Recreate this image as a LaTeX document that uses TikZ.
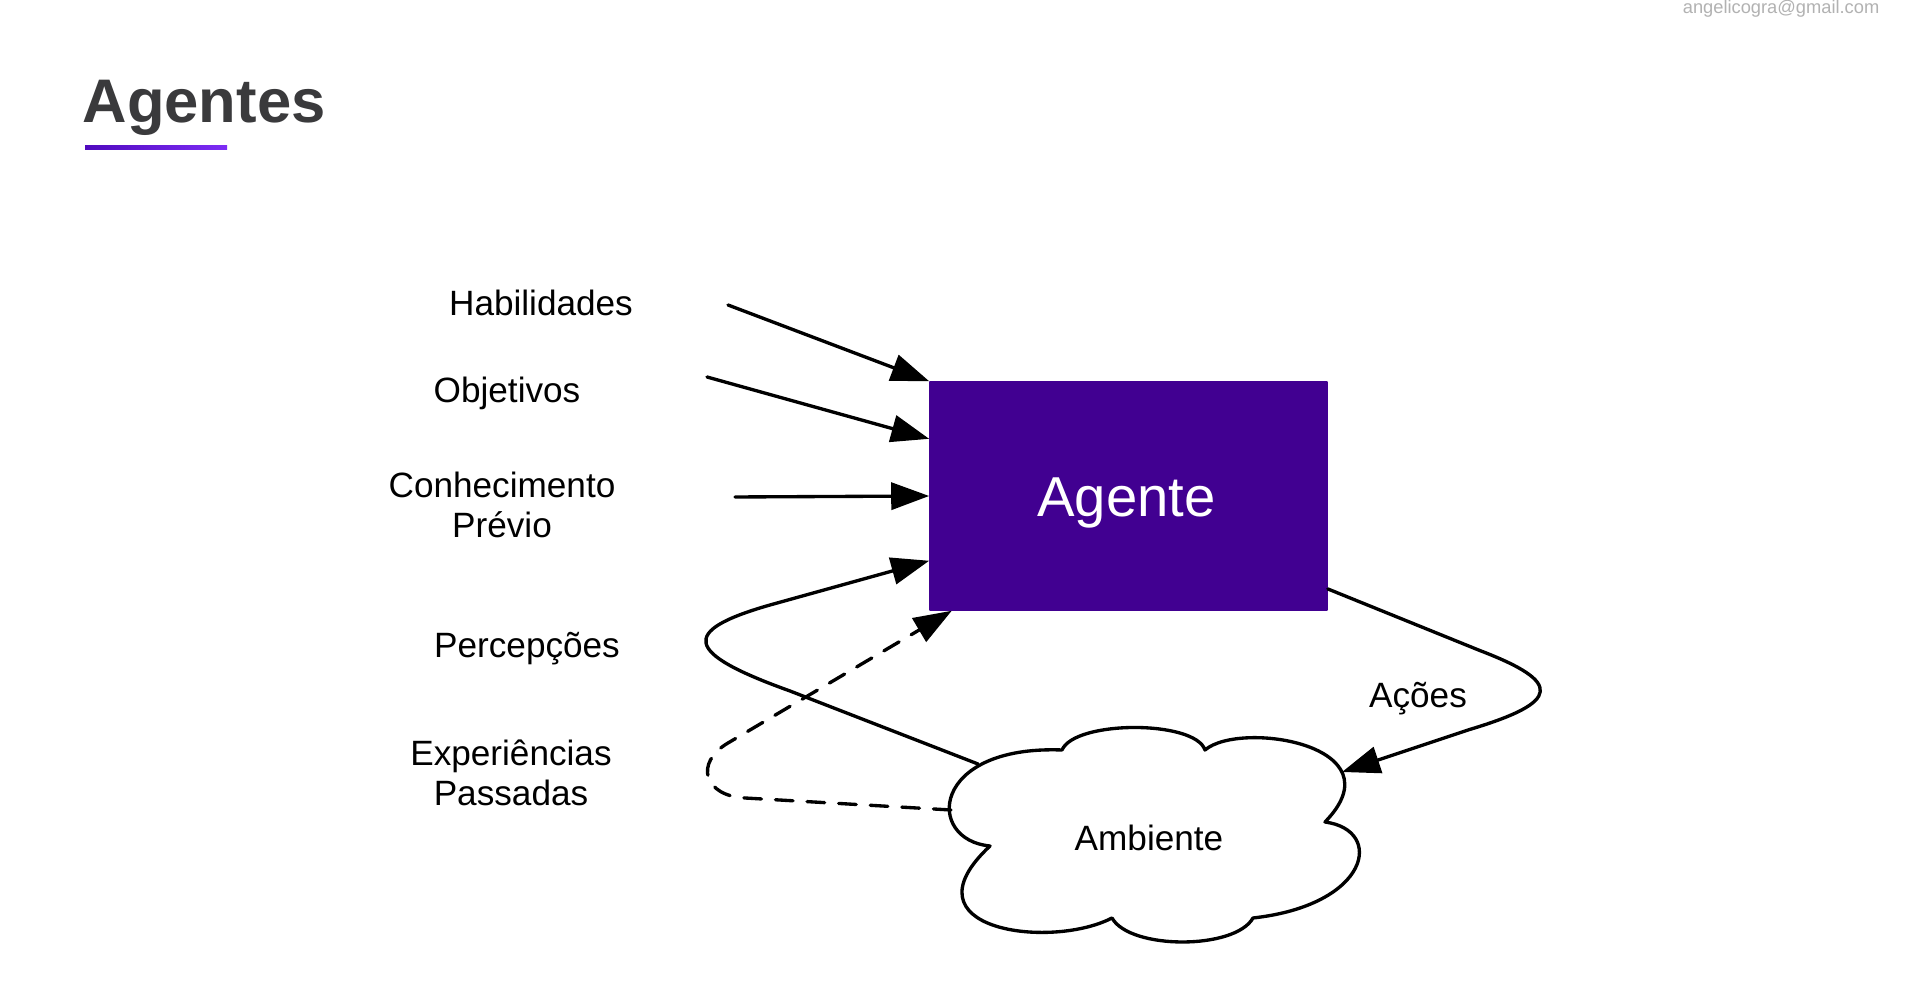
\documentclass[tikz,border=0pt]{standalone}
\usepackage{fontspec}
\setmainfont{Liberation Sans}
\usetikzlibrary{arrows.meta}
\definecolor{roxo}{RGB}{65,0,145}
\definecolor{roxoesc}{RGB}{80,10,190}
\definecolor{roxoclaro}{RGB}{125,45,245}
\definecolor{cinzatitulo}{RGB}{58,58,60}
\begin{document}
\begin{tikzpicture}[x=0.01cm, y=-0.01cm, >={Triangle[length=10.8pt,width=7.7pt]}, font=\fontsize{10}{11.5}\selectfont, line join=round, line cap=round]
	\def\nuvem{(990,846) .. controls (925,840) and (930,745) .. (1062,750)
		.. controls (1075,720) and (1195,720) .. (1205,750)
		.. controls (1240,720) and (1400,745) .. (1325,822)
		.. controls (1385,830) and (1370,905) .. (1253,918)
		.. controls (1235,950) and (1130,950) .. (1112,918)
		.. controls (1050,950) and (900,930) .. (990,846) -- cycle}
	\colorlet{linha}{black}
	\tikzset{rotulo/.style={align=center, inner sep=0pt},
		seta/.style={->, draw=linha, line width=0.95pt},
		tracejada/.style={seta, dash pattern=on 5pt off 4pt}}
	\path[use as bounding box, fill=white] (0,0) rectangle (1914,986);
	% titulo
	\node[anchor=base west, inner sep=0pt, text=cinzatitulo, font=\bfseries\fontsize{17.5}{21}\selectfont] (titulo) at (82,123) {Agentes};
	\shade[left color=roxoesc, right color=roxoclaro] (85,146) rectangle (227,150);
	\node[anchor=base east, inner sep=0pt, text=black!30, font=\fontsize{5.2}{6}\selectfont] (email) at (1880,14) {angelicogra@gmail.com};
	% agente e ambiente
	\node[fill=roxo, draw=roxo, minimum width=3.97cm, minimum height=2.28cm, inner sep=0pt] (agente) at (1128.5,496) {};
	\node[anchor=base, inner sep=0pt, text=white, font=\fontsize{16}{19}\selectfont] (agtxt) at (1126.5,517) {Agente};
	\draw[line width=0.95pt] \nuvem;
	\node[anchor=base, rotulo] (amb) at (1149,851) {Ambiente};
	\coordinate (ambP) at (978,764);
	\coordinate (ambE) at (951,810);
	\coordinate (ambA) at (1342,772);
	% rotulos
	\node[anchor=base, rotulo] (hab) at (541,316) {Habilidades};
	\node[anchor=base, rotulo] (obj) at (507,403) {Objetivos};
	\node[rotulo] (con) at (502,505) {Conhecimento\\Prévio};
	\node[anchor=base, rotulo] (per) at (527,658) {Percepções};
	\node[rotulo] (exp) at (511,773) {Experiências\\Passadas};
	\node[anchor=base, rotulo] (aco) at (1418,708) {Ações};
	\coordinate (hab-s) at (728,305);
	\coordinate (obj-s) at (707,377);
	\coordinate (con-s) at (735,497);
	% setas
	\draw[seta] (hab-s) -- (agente.north west);
	\draw[seta] (obj-s) -- (agente.164);
	\draw[seta] (con-s) -- (agente.west);
	\draw[seta] (ambP) -- (790,691) .. controls (684,653) and (679,631) .. (770,605) -- (agente.198);
	\draw[tracejada] (ambE) -- (745,798) .. controls (704,796) and (694,763) .. (728,743) -- (agente.213);
	\draw[seta] (agente.335) -- (1480,650.6) .. controls (1563,682.4) and (1561,702) .. (1470,729.4) -- (ambA);
\end{tikzpicture}
\end{document}
